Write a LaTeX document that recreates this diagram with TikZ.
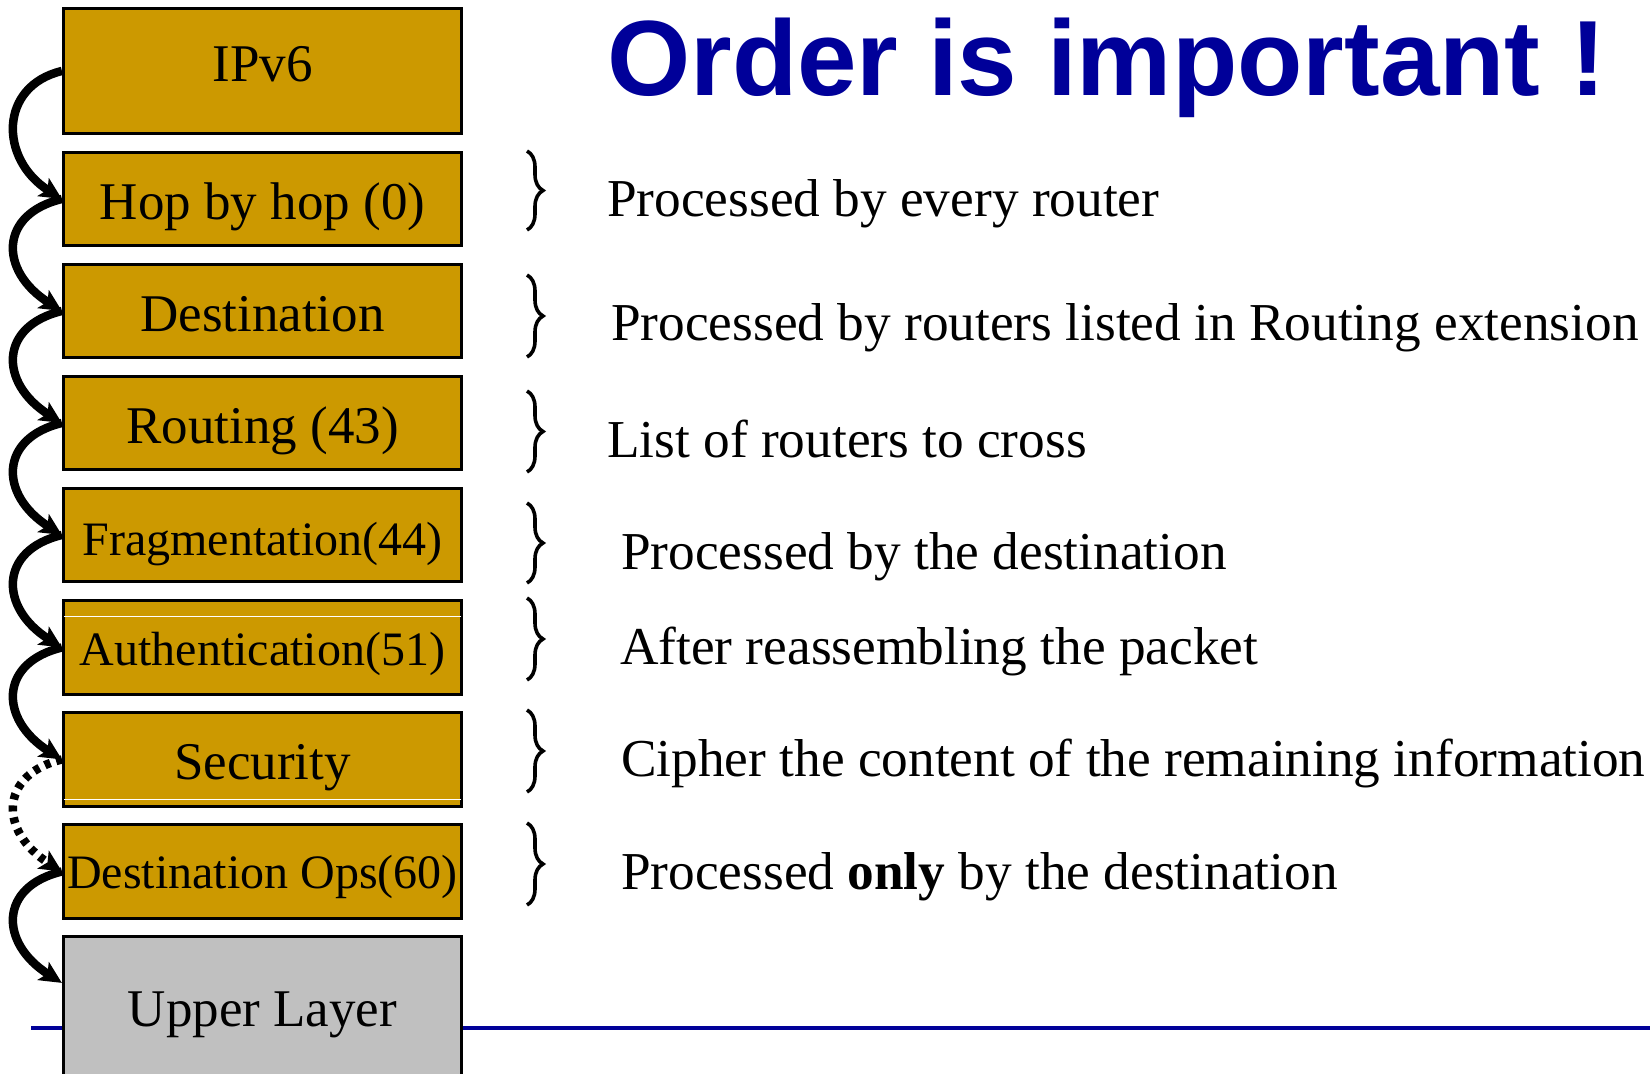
\documentclass[tikz,border=0pt]{standalone}
\usepackage{fontspec}
\setmainfont{Liberation Serif}
\newfontfamily\titlefont{Liberation Sans}
\usetikzlibrary{arrows.meta,decorations.pathreplacing,calc}
\definecolor{hdrfill}{RGB}{204,153,0}
\definecolor{upperfill}{RGB}{192,192,192}
\definecolor{slideblue}{RGB}{0,0,153}

\begin{document}
\begin{tikzpicture}[x=1pt,y=-1pt,
  hdr/.style={draw=black, line width=3.2pt, fill=hdrfill,
    minimum width=398pt, minimum height=93pt, inner sep=0pt,
    text height=52pt, text depth=12pt, font=\fontsize{53}{60}\selectfont},
  hdrsmall/.style={hdr, font=\fontsize{48}{56}\selectfont},
  nexthdr/.style={draw=black, line width=8.5pt, -{Stealth[length=22pt,width=21pt,inset=5pt]}},
  nexthdrdot/.style={nexthdr, dash pattern=on 6pt off 6pt},
  note/.style={anchor=base west, inner sep=0pt, font=\fontsize{53.3}{60}\selectfont},
  grp/.style={draw=black, decorate, decoration={brace, amplitude=16pt}, line width=3.6pt},
  seam/.style={draw=white, line width=1.2pt},
]
\useasboundingbox (0,0) rectangle (1650,1074);

% horizontal rule behind the header stack
\draw[slideblue, line width=4.5pt] (31,1028) -- (1650,1028);

% title
\node[anchor=base west, inner sep=0pt, text=slideblue,
  font=\titlefont\bfseries\fontsize{107}{110}\selectfont] (title) at (607,95) {Order is important !};

% stacked IPv6 headers
\node[hdr, minimum height=125pt, text height=36pt, text depth=16pt] (ipv6) at (262.5,71) {IPv6};
\node[hdr] (hop)  at (262.5,199) {Hop by hop (0)};
\node[hdr] (dst)  at (262.5,311) {Destination};
\node[hdr] (rt)   at (262.5,423) {Routing (43)};
\node[hdrsmall] (frag) at (262.5,535) {Fragmentation(44)};
\node[hdrsmall, minimum height=94pt, text height=47pt] (auth) at (262.5,647.5) {Authentication(51)};
\node[hdr, minimum height=94pt] (sec) at (262.5,759.5) {Security};
\node[hdrsmall, minimum height=94pt, text height=45pt] (dops) at (262.5,871.5) {Destination Ops(60)};
\node[hdr, fill=upperfill, minimum height=147pt, text height=44pt] (upper) at (262.5,1010) {Upper Layer};

% thin seams inside two of the boxes
\draw[seam] ([xshift=2pt,yshift=-17.5pt]auth.north west) -- ([xshift=-2pt,yshift=-17.5pt]auth.north east);
\draw[seam] ([xshift=2pt,yshift=8.5pt]sec.south west) -- ([xshift=-2pt,yshift=8.5pt]sec.south east);

% next-header chain
\coordinate (upin) at ([yshift=-48pt]upper.north west);
\draw[nexthdr] (ipv6.west) .. controls ($(ipv6.west)+(-63,15)$) and ($(hop.west)+(-63,-40)$) .. (hop.west);
\draw[nexthdr] (hop.west) .. controls ($(hop.west)+(-63,15)$) and ($(dst.west)+(-63,-40)$) .. (dst.west);
\draw[nexthdr] (dst.west) .. controls ($(dst.west)+(-63,15)$) and ($(rt.west)+(-63,-40)$) .. (rt.west);
\draw[nexthdr] (rt.west) .. controls ($(rt.west)+(-63,15)$) and ($(frag.west)+(-63,-40)$) .. (frag.west);
\draw[nexthdr] (frag.west) .. controls ($(frag.west)+(-63,15)$) and ($(auth.west)+(-63,-40)$) .. (auth.west);
\draw[nexthdr] (auth.west) .. controls ($(auth.west)+(-63,15)$) and ($(sec.west)+(-63,-40)$) .. (sec.west);
\draw[nexthdrdot] (sec.west) .. controls ($(sec.west)+(-63,15)$) and ($(dops.west)+(-63,-40)$) .. (dops.west);
\draw[nexthdr] (dops.west) .. controls ($(dops.west)+(-63,15)$) and ($(upin)+(-63,-40)$) .. (upin);

% braces
\coordinate (b1a) at (527,151); \coordinate (b1b) at (527,230);
\coordinate (b2a) at (527,275); \coordinate (b2b) at (527,357);
\coordinate (b3a) at (527,391); \coordinate (b3b) at (527,472);
\coordinate (b4a) at (527,503); \coordinate (b4b) at (527,583);
\coordinate (b5a) at (527,598); \coordinate (b5b) at (527,680);
\coordinate (b6a) at (527,710); \coordinate (b6b) at (527,792);
\coordinate (b7a) at (527,823); \coordinate (b7b) at (527,905);
\draw[grp] (b1a) -- (b1b);
\draw[grp] (b2a) -- (b2b);
\draw[grp] (b3a) -- (b3b);
\draw[grp] (b4a) -- (b4b);
\draw[grp] (b5a) -- (b5b);
\draw[grp] (b6a) -- (b6b);
\draw[grp] (b7a) -- (b7b);

% explanations
\node[note] (n1) at (607,216) {Processed by every router};
\node[note] (n2) at (611,340) {Processed by routers listed in Routing extension};
\node[note] (n3) at (607,457) {List of routers to cross};
\node[note] (n4) at (621,569) {Processed by the destination};
\node[note] (n5) at (620,664) {After reassembling the packet};
\node[note] (n6) at (621,776) {Cipher the content of the remaining information};
\node[note] (n7) at (621,889) {Processed \textbf{only} by the destination};
\end{tikzpicture}
\end{document}
